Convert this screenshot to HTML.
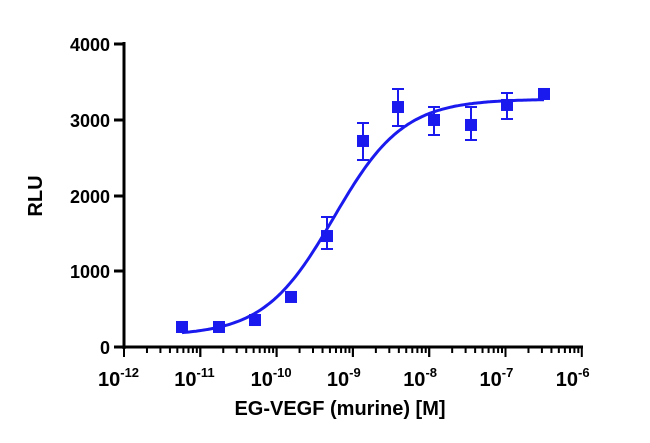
<!DOCTYPE html>
<html><head><style>body{margin:0;background:#fff}svg{display:block}</style></head>
<body>
<svg id="s" width="650" height="443" xmlns="http://www.w3.org/2000/svg" font-family="Liberation Sans, Arial, sans-serif" font-weight="bold">
<g stroke="#000" stroke-width="3" fill="none">
<line x1="124" y1="42" x2="124" y2="349"/>
<line x1="122" y1="347" x2="583" y2="347"/>
<line x1="114" y1="44" x2="124" y2="44"/>
<line x1="114" y1="120" x2="124" y2="120"/>
<line x1="114" y1="196" x2="124" y2="196"/>
<line x1="114" y1="271" x2="124" y2="271"/>
<line x1="114" y1="347" x2="124" y2="347"/>
</g>
<g id="ticks" stroke="#000" stroke-width="2"></g>
<g font-size="18" text-anchor="end" fill="#000">
<text x="110" y="51">4000</text><text x="110" y="127">3000</text><text x="110" y="203">2000</text><text x="110" y="278">1000</text><text x="110" y="354">0</text>
</g>
<g id="xl" font-size="20" fill="#000"></g>
<text x="42" y="196" font-size="20" transform="rotate(-90 42 196)" text-anchor="middle">RLU</text>
<text x="340" y="415" font-size="20" text-anchor="middle">EG-VEGF (murine) [M]</text>
<g id="d" fill="#1a1aee" stroke="#1a1aee"></g>
</svg>
<script>
var ns="http://www.w3.org/2000/svg";
function el(p,t,a){var e=document.createElementNS(ns,t);for(var k in a)e.setAttribute(k,a[k]);document.getElementById(p).appendChild(e);return e;}
var X=function(l){return 124+(l+12)*76.3;},Y=function(v){return 347-v*0.0758;};
for(var d=-12;d<-6;d++){for(var m=1;m<=10;m++){var x=X(d+Math.log10(m));el("ticks","line",{x1:x,y1:347,x2:x,y2:(m==1||m==10)?357:353});}}
for(var d=-12;d<=-6;d++){var x=X(d);var t=el("xl","text",{x:x-26,y:386});t.textContent="10";var s=document.createElementNS(ns,"tspan");s.setAttribute("dy","-9");s.setAttribute("font-size","13");s.textContent="-"+(-d);t.appendChild(s);}
var pts=[[182,264,0],[219,264,0],[255,356,0],[291,660,0],[327,1464,[217,249]],[363,2718,[123,160]],[398,3166,[89,126]],[434,2995,[107,135]],[471,2929,[107,140]],[507,3193,[93,119]],[544,3338,0]];
function f(l){return 150+3120/(1+Math.pow(10,(-9.25-l)*0.95));}
var p="";for(var x=182;x<=544;x+=2){var l=(x-124)/76.3-12;p+=(p?"L":"M")+x+" "+Y(f(l)).toFixed(1);}
el("d","path",{d:p,fill:"none","stroke-width":"3"});
pts.forEach(function(q){var y=Y(q[1]);if(q[2]){el("d","line",{x1:q[0],y1:q[2][0],x2:q[0],y2:q[2][1],"stroke-width":"2"});el("d","line",{x1:q[0]-6,y1:q[2][0],x2:q[0]+6,y2:q[2][0],"stroke-width":"2"});el("d","line",{x1:q[0]-6,y1:q[2][1],x2:q[0]+6,y2:q[2][1],"stroke-width":"2"});}
el("d","rect",{x:q[0]-6,y:y-6,width:12,height:12,stroke:"none"});});
</script>
</body></html>
